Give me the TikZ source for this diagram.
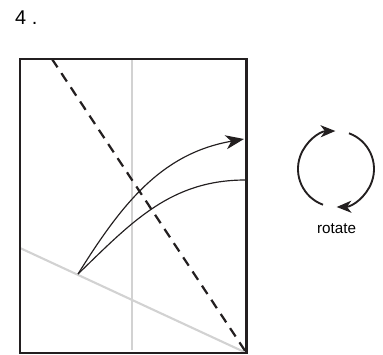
\documentclass[tikz,border=0pt]{standalone}
\usepackage{fontspec}
\setmainfont{Liberation Sans}
\usepackage{tikz}
\usetikzlibrary{
  arrows.meta,
  calc
}
\definecolor{ink}{HTML}{231F20}
\definecolor{crease}{HTML}{D2D2D2}
\tikzset{
  sheet/.style={
    draw=ink,
    line width=2pt
  },
  oldfold/.style={
    draw=crease,
    line width=1.8pt
  },
  valley/.style={
    draw=ink,
    line width=1.9pt,
    dash pattern=on 8.5pt off 6pt
  },
  swing/.style={
    draw=ink,
    line width=1pt
  },
  swingtip/.style={
    swing,
    -{Stealth[length=5.5mm,width=4.2mm,inset=1.6mm]}
  },
  turn/.style={
    draw=ink,
    line width=1.6pt,
    -{Stealth[length=4.4mm,width=3.6mm,inset=1.3mm]}
  },
  steplabel/.style={
    font=\fontsize{17}{20}\selectfont,
    inner sep=0pt
  },
  turnlabel/.style={
    font=\fontsize{13}{16}\selectfont,
    inner sep=0pt
  }
}

\begin{document}
\begin{tikzpicture}[x=0.3mm,y=0.3mm]
  \useasboundingbox (0,0) rectangle (383,354);

  \coordinate (tl) at (20,295);
  \coordinate (br) at (246.5,1);
  \coordinate (mt) at (132,295);
  \coordinate (mb) at (132,4);
  \coordinate (lm) at (20,106);
  \coordinate (dtop) at (52,295);
  \coordinate (pivot) at (78,80);
  \coordinate (hi) at (244,215);
  \coordinate (lo) at (245.5,174);
  \coordinate (rc) at (336,185);

  \node[steplabel, anchor=base west] (step) at (15,329) {4 .};

  \draw[oldfold] (mt) -- (mb);
  \draw[oldfold] (lm) -- (br);
  \draw[sheet] (tl) rectangle (br);
  \draw[valley] (dtop) -- (br);

  \draw[swingtip] (pivot) to[out=58,in=190] (hi);
  \draw[swing] (pivot) to[out=44,in=180] (lo);

  \draw[turn] ($(rc)+(250:38)$) arc[start angle=250,end angle=91,radius=38];
  \draw[turn] ($(rc)+(70:38)$) arc[start angle=70,end angle=-89,radius=38];
  \node[turnlabel, anchor=base] (turntext) at (336.5,121) {rotate};
\end{tikzpicture}
\end{document}
